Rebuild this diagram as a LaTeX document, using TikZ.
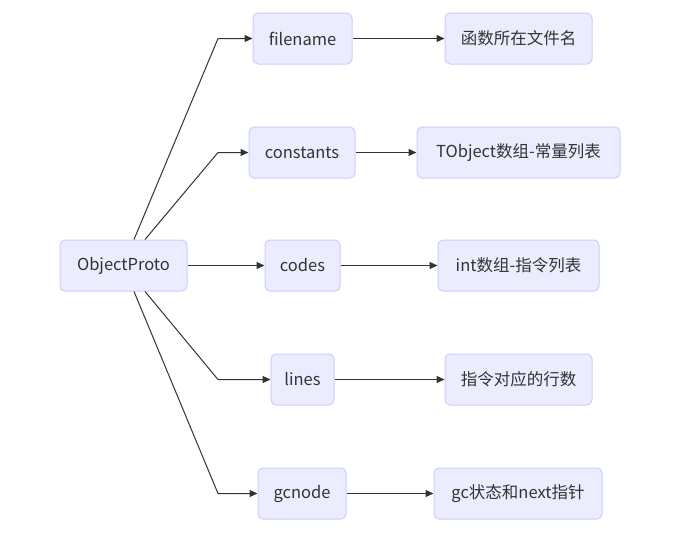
\documentclass[tikz,border=0pt]{standalone}
\usepackage{fontspec}
\setmainfont{Noto Sans CJK SC}
\usetikzlibrary{arrows.meta}
\definecolor{boxfill}{HTML}{ECECFF}
\definecolor{boxline}{HTML}{CCCCFF}
\definecolor{ink}{HTML}{333333}
\begin{document}
\begin{tikzpicture}[x=1pt,y=-1pt,
    box/.style={draw=boxline,fill=boxfill,rounded corners=5pt,line width=1pt,
      minimum height=51pt,minimum width=#1,inner xsep=2pt,text=ink,
      font=\fontsize{16.5}{19}\selectfont},
    link/.style={draw=ink,line width=1pt,-{Triangle[length=8pt,width=7pt]}}]
        \useasboundingbox (0,0) rectangle (681,536);
        \draw (123.5,265.5) node[box=127pt](op){ObjectProto};
        \draw (302.5,38.5) node[box=99pt](fn){filename};
        \draw (302,152.5) node[box=106pt](cs){constants};
        \draw (302.5,265.5) node[box=75pt](cd){codes};
        \draw (302.5,379.5) node[box=63pt](ln){lines};
        \draw (302,493.5) node[box=88pt](gc){gcnode};
        \draw (518.5,38.5) node[box=147pt](fnd){函数所在文件名};
        \draw (518.5,152.5) node[box=203pt](csd){TObject数组-常量列表};
        \draw (518.5,265.5) node[box=161pt](cdd){int数组-指令列表};
        \draw (518.5,379.5) node[box=147pt](lnd){指令对应的行数};
        \draw (518,493.5) node[box=168pt](gcd){gc状态和next指针};
        \draw[link] ([xshift=10.5pt]op.north) -- (218,38.5) -- (fn);
        \draw[link] ([xshift=21.5pt]op.north) -- (218,152.5) -- (cs);
        \draw[link] (op) -- (cd);
        \draw[link] ([xshift=21.5pt]op.south) -- (218,379.5) -- (ln);
        \draw[link] ([xshift=10.5pt]op.south) -- (218,493.5) -- (gc);
        \draw[link] (fn) -- (fnd);
        \draw[link] (cs) -- (csd);
        \draw[link] (cd) -- (cdd);
        \draw[link] (ln) -- (lnd);
        \draw[link] (gc) -- (gcd);
      \end{tikzpicture}
\end{document}
